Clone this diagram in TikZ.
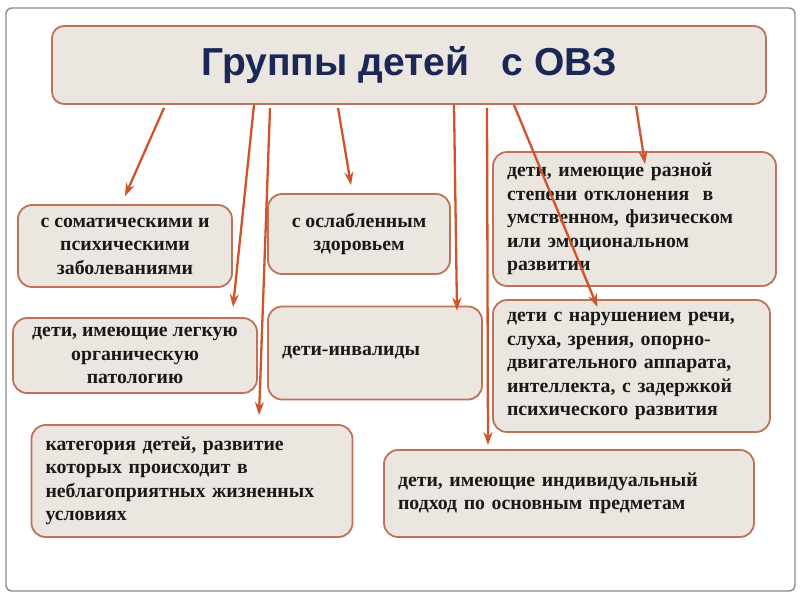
\documentclass[tikz,border=0pt]{standalone}
\usepackage{fontspec}
\usepackage{xcolor}
\usepackage{tikz}
\usetikzlibrary{arrows.meta}
\setmainfont{Liberation Serif}
\newfontfamily\titlefont{Liberation Sans}
\definecolor{boxfill}{HTML}{ECE6E0}
\definecolor{boxedge}{HTML}{C0715A}
\definecolor{arrowred}{HTML}{D2522A}
\definecolor{titlenavy}{HTML}{1B2857}
\definecolor{framegray}{HTML}{8C8C8C}

\tikzset{
  grpbox/.style={draw=boxedge, fill=boxfill, line width=1.8pt, rounded corners=14pt,
    inner xsep=14pt, inner ysep=0pt, text=black!90,
    font=\bfseries\fontsize{19.8}{23.5}\selectfont},
  arr/.style={draw=arrowred, line width=2.3pt, -{Stealth[length=13pt,width=9pt]}}
}

\begin{document}
\begin{tikzpicture}[x=1pt, y=-1pt]
  \useasboundingbox (0,0) rectangle (800,600);
  \node[draw=framegray, line width=1.4pt, fill=white, rounded corners=6pt,
        minimum width=789pt, minimum height=583pt, inner sep=0pt] (frame) at (400.5,299.5) {};

  % title
  \node[draw=boxedge, fill=boxfill, line width=1.8pt, rounded corners=12pt,
        minimum width=714pt, minimum height=78pt, text=titlenavy,
        font=\titlefont\bfseries\fontsize{39}{44}\selectfont] (title) at (409,65)
    {Группы детей\ \ \ с ОВЗ};

  % groups
  \node[grpbox, minimum width=214pt, minimum height=82pt, align=center] (soma) at (125,246)
    {с соматическими и\\ психическими\\ заболеваниями};
  \node[grpbox, minimum width=182pt, minimum height=80pt, align=center] (weak) at (359,234)
    {с ослабленным\\ здоровьем};
  \node[grpbox, text width=255pt, minimum height=134pt, align=left] (dev) at (634.5,219)
    {дети, имеющие разной\\ степени отклонения\ \ в\\ умственном, физическом\\ или эмоциональном\\ развитии};
  \node[grpbox, minimum width=244pt, minimum height=75pt, align=center] (org) at (135,355.5)
    {дети, имеющие легкую\\ органическую\\ патологию};
  \node[grpbox, text width=186pt, minimum height=93pt, align=left] (inv) at (375,353)
    {дети-инвалиды};
  \node[grpbox, text width=249pt, minimum height=132pt, align=left] (speech) at (631.5,366)
    {дети с нарушением речи,\\ слуха, зрения, опорно-\\ двигательного аппарата,\\ интеллекта, с задержкой\\ психического развития};
  \node[grpbox, text width=293pt, minimum height=112pt, align=left] (cat) at (192,481)
    {категория детей, развитие\\ которых происходит в\\ неблагоприятных жизненных\\ условиях};
  \node[grpbox, text width=342pt, minimum height=87pt, align=left] (ind) at (569,493.5)
    {дети, имеющие индивидуальный\\ подход по основным предметам};

  % arrows
  \draw[arr] ([xshift=-245pt,yshift=-3pt]title.south) -- ([yshift=8pt]soma.north);
  \draw[arr] ([xshift=-155pt,yshift=0pt]title.south) -- ([xshift=98pt,yshift=10pt]org.north);
  \draw[arr] ([xshift=-139pt,yshift=-3pt]title.south) -- ([xshift=67pt,yshift=9pt]cat.north);
  \draw[arr] ([xshift=-71pt,yshift=-3pt]title.south) -- ([xshift=-8pt,yshift=8pt]weak.north);
  \draw[arr] ([xshift=45pt,yshift=0pt]title.south) -- ([xshift=82pt,yshift=-5pt]inv.north);
  \draw[arr] ([xshift=78pt,yshift=-3pt]title.south) -- ([xshift=-81pt,yshift=4pt]ind.north);
  \draw[arr] ([xshift=105pt,yshift=0pt]title.south) -- ([xshift=-34pt,yshift=-8pt]speech.north);
  \draw[arr] ([xshift=227pt,yshift=-1pt]title.south) -- ([xshift=10.5pt,yshift=-13pt]dev.north);
\end{tikzpicture}
\end{document}
